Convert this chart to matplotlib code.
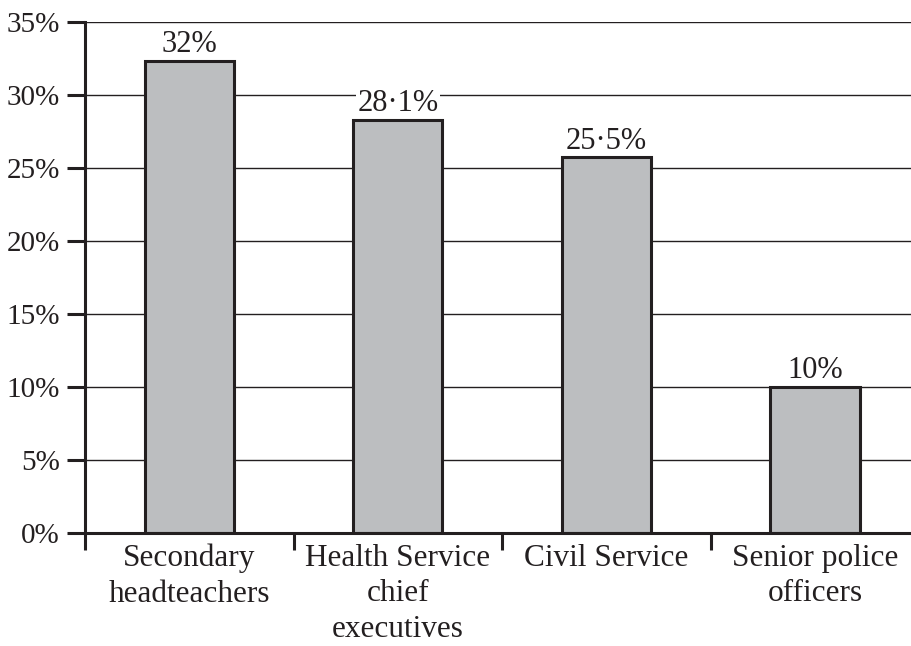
import matplotlib
matplotlib.use("Agg")
import matplotlib.pyplot as plt
import numpy as np

categories = ["Secondary\nheadteachers", "Health Service\nchief\nexecutives",
              "Civil Service", "Senior police\nofficers"]
values = [32.3, 28.3, 25.7, 10.0]
value_labels = ["32%", "28\u00b71%", "25\u00b75%", "10%"]
y_ticks = [0, 5, 10, 15, 20, 25, 30, 35]
y_tick_labels = ["0%", "5%", "10%", "15%", "20%", "25%", "30%", "35%"]

plt.rcParams['font.family'] = ['Liberation Serif', 'DejaVu Serif']
dark = "#231f20"

fig = plt.figure(figsize=(9.12, 6.46), dpi=100)
W, H = 912, 646
ax = fig.add_axes([85 / W, (H - 532.7) / H, (W - 85) / W, (532.7 - 21.7) / H])

x = np.arange(len(categories))
ax.bar(x, values, width=0.427, color="#bcbec0", edgecolor=dark, linewidth=2.2, zorder=3)

for xi, v, lab in zip(x, values, value_labels):
    ax.text(xi, v + 0.12, lab, ha="center", va="bottom", fontsize=22, color=dark,
            zorder=2.5, bbox=dict(facecolor="white", edgecolor="none", pad=1.0))

ax.set_ylim(0, 35)
ax.set_xlim(-0.5, 3.465)
ax.set_yticks(y_ticks)
ax.set_yticklabels(y_tick_labels, fontsize=21, color=dark)
for yt in y_ticks[1:]:
    ax.axhline(yt, color=dark, linewidth=1.0, zorder=1)

# category boundary ticks
ax.set_xticks([-0.5, 0.5, 1.5, 2.5])
ax.set_xticklabels([])
ax.tick_params(axis="x", direction="out", length=12, width=2.2, color=dark)
ax.tick_params(axis="y", direction="out", length=13, width=2.2, color=dark, pad=5)
for xi, c in zip(x, categories):
    ax.text(xi, -0.75, c, ha="center", va="top", fontsize=22.5, color=dark,
            linespacing=1.3, transform=ax.transData, clip_on=False)

for s in ["top", "right"]:
    ax.spines[s].set_visible(False)
for s in ["left", "bottom"]:
    ax.spines[s].set_linewidth(2.2)
    ax.spines[s].set_color(dark)
    ax.spines[s].set_zorder(5)

fig.savefig("out.png", dpi=100)
